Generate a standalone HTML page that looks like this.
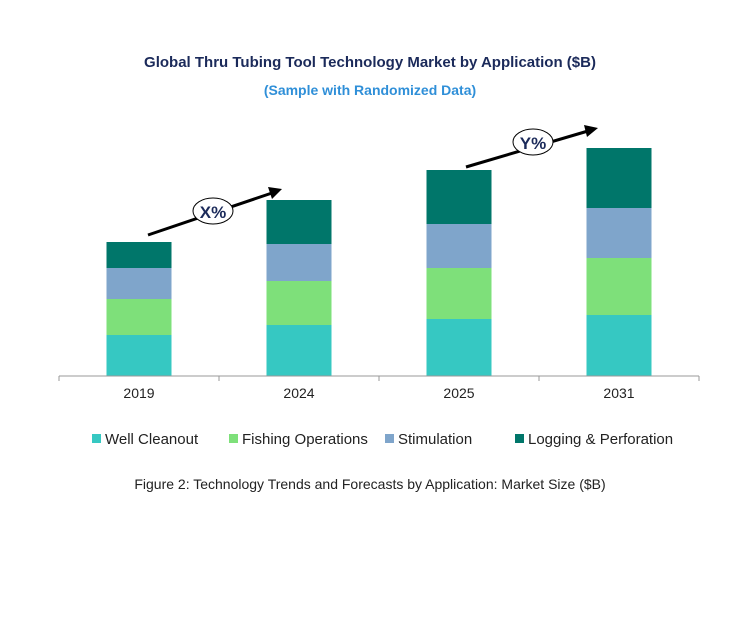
<!DOCTYPE html>
<html><head><meta charset="utf-8"><style>
body{margin:0;background:#fff;font-family:"Liberation Sans",Arial,sans-serif}
svg text{font-family:"Liberation Sans",Arial,sans-serif}
</style></head><body>
<svg id="chart" width="741" height="621" viewBox="0 0 741 621" xmlns="http://www.w3.org/2000/svg">
<rect width="741" height="621" fill="#fff"/>
<text x="370" y="67" text-anchor="middle" font-size="15" font-weight="bold" fill="#1b2a5a">Global Thru Tubing Tool Technology Market by Application ($B)</text>
<text x="370" y="95" text-anchor="middle" font-size="14" font-weight="bold" fill="#2f8fd8">(Sample with Randomized Data)</text>
<g id="bars"></g>
<line x1="59" y1="376" x2="699" y2="376" stroke="#999" stroke-width="1"/>
<g id="ticks"></g>
<g>
<line x1="148" y1="235" x2="272" y2="193" stroke="#000" stroke-width="3"/>
<polygon points="282,189 268,187 272,199" fill="#000"/>
<ellipse cx="213" cy="211" rx="20" ry="13" fill="#fff" stroke="#000" stroke-width="1"/>
<text x="213" y="218" text-anchor="middle" font-size="17" font-weight="bold" fill="#1b2a5a">X%</text>
</g>
<g>
<line x1="466" y1="167" x2="588" y2="131" stroke="#000" stroke-width="3"/>
<polygon points="598,128 584,125 587,137" fill="#000"/>
<ellipse cx="533" cy="142" rx="20" ry="13" fill="#fff" stroke="#000" stroke-width="1"/>
<text x="533" y="149" text-anchor="middle" font-size="17" font-weight="bold" fill="#1b2a5a">Y%</text>
</g>
<g id="legend"></g>
<text x="370" y="489" text-anchor="middle" font-size="14" fill="#222">Figure 2: Technology Trends and Forecasts by Application: Market Size ($B)</text>
</svg>
<script>
const categories = ["2019","2024","2025","2031"];
const seriesNames = ["Well Cleanout","Fishing Operations","Stimulation","Logging & Perforation"];
const wellCleanout = [4.1,5.1,5.7,6.1];
const fishingOps = [3.6,4.4,5.1,5.7];
const stimulation = [3.1,3.7,4.4,5.0];
const logging = [2.6,4.4,5.4,6.0];
const colors = ["#36c8c2","#7ee07a","#7fa5cb","#00766a"];
const series=[wellCleanout,fishingOps,stimulation,logging];
const NS="http://www.w3.org/2000/svg";
const x0=59,band=160,base=376,pxPer=10,bw=65;
const xPos=i=>x0+band*i+band/2;
const yScale=v=>v*pxPer;
const bars=document.getElementById('bars');
categories.forEach((c,i)=>{
 let y=base;
 series.forEach((s,k)=>{
  const h=yScale(s[i]);y-=h;
  const r=document.createElementNS(NS,'rect');
  
  
  r.setAttribute('x',xPos(i)-bw/2);r.setAttribute('y',y);
  r.setAttribute('width',bw);r.setAttribute('height',h);r.setAttribute('fill',colors[k]);
  bars.appendChild(r);
 });
});
const ticks=document.getElementById('ticks');
for(let i=0;i<=categories.length;i++){
 const l=document.createElementNS(NS,'line');
 
 
 const x=x0+band*i;
 l.setAttribute('x1',x);l.setAttribute('x2',x);l.setAttribute('y1',base);l.setAttribute('y2',base+5);l.setAttribute('stroke','#999');
 ticks.appendChild(l);
}
categories.forEach((c,i)=>{
 const t=document.createElementNS(NS,'text');
 
 
 t.setAttribute('x',xPos(i));t.setAttribute('y',398);t.setAttribute('text-anchor','middle');t.setAttribute('font-size','14');t.setAttribute('fill','#222');
 t.textContent=c;ticks.appendChild(t);
});
const lx=[92,229,385,515];
const legend=document.getElementById('legend');
seriesNames.forEach((n,k)=>{
 const g=document.createElementNS(NS,'g');
 
 
 const r=document.createElementNS(NS,'rect');
 r.setAttribute('x',lx[k]);r.setAttribute('y',434);r.setAttribute('width',9);r.setAttribute('height',9);r.setAttribute('fill',colors[k]);
 const t=document.createElementNS(NS,'text');
 t.setAttribute('x',lx[k]+13);t.setAttribute('y',444);t.setAttribute('font-size','15');t.setAttribute('fill','#222');
 t.textContent=n;
 g.appendChild(r);g.appendChild(t);legend.appendChild(g);
});
</script>
</body></html>
